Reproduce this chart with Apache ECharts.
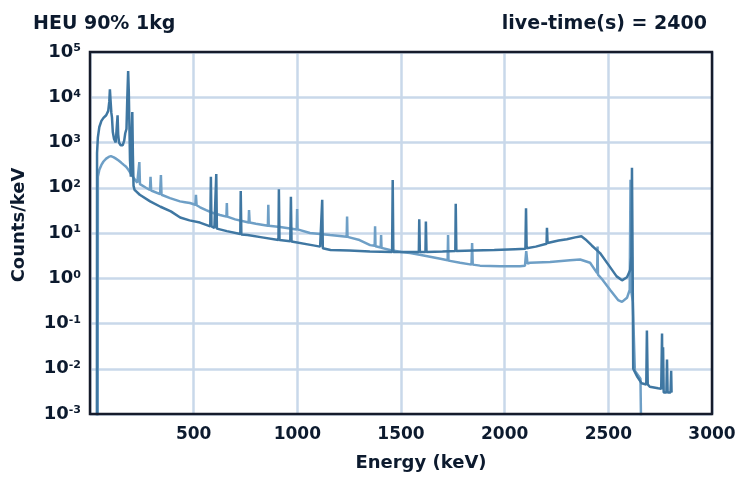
<!DOCTYPE html>
<html>
<head>
<meta charset="utf-8">
<script src="https://cdn.jsdelivr.net/npm/echarts@6/dist/echarts.min.js"></script>
<style>
  html, body { margin: 0; padding: 0; background: #fff; }
  #chart { width: 739px; height: 477px; }
</style>
</head>
<body>
<div id="chart"></div>
<script>
// spectrum 1 (dark): energies in keV and counts/keV
const darkEnergy = [33, 34, 38, 45, 55, 65, 78, 88, 93, 96, 99, 103, 106, 110, 116, 124, 128, 133, 136, 140, 148, 158, 165, 170, 176, 180, 184, 187, 190, 193, 197, 201, 204, 207, 210, 215, 240, 290, 340, 390, 435, 480, 530, 580, 583, 586, 600, 607, 609, 612, 660, 725, 727, 730, 760, 830, 909, 911, 914, 966, 969, 972, 1070, 1110, 1120, 1123, 1160, 1250, 1350, 1457, 1460, 1463, 1586, 1588, 1591, 1618, 1620, 1623, 1700, 1762, 1764, 1767, 1850, 1950, 2050, 2100, 2103, 2106, 2150, 2202, 2204, 2207, 2260, 2300, 2340, 2370, 2390, 2420, 2460, 2500, 2540, 2566, 2590, 2605, 2611, 2614, 2617, 2620, 2640, 2660, 2683, 2686, 2690, 2700, 2740, 2755, 2759, 2761, 2764, 2767, 2780, 2783, 2786, 2800, 2803, 2805];
const darkCounts = [0.00001, 590, 1300, 2200, 3000, 3500, 4000, 5000, 8000, 15000, 8700, 4500, 3600, 1700, 1200, 1000, 1100, 4000, 1500, 1000, 870, 870, 1100, 1600, 2000, 10000, 38000, 14000, 2500, 400, 175, 180, 4700, 500, 110, 90, 70, 50, 38, 30, 22, 19, 17, 14, 175, 14, 13, 13, 200, 12.5, 11, 9.5, 85, 9.3, 9, 8, 7, 93, 7, 6.6, 63, 6.5, 5.4, 5.0, 54, 4.6, 4.2, 4.1, 3.9, 3.8, 148, 3.8, 3.8, 20, 3.8, 3.8, 18, 3.8, 3.9, 4.0, 44, 4.0, 4.1, 4.2, 4.4, 4.5, 35, 4.6, 5.0, 5.8, 13, 6.0, 6.8, 7.3, 8.0, 8.5, 7.2, 5.3, 3.6, 2.0, 1.1, 0.9, 1.05, 1.5, 3, 275, 3, 0.01, 0.0066, 0.0048, 0.0045, 0.07, 0.0045, 0.004, 0.0037, 0.0036, 0.06, 0.0035, 0.03, 0.003, 0.003, 0.016, 0.003, 0.003, 0.009, 0.003];

// spectrum 2 (light)
const lightEnergy = [37, 38, 45, 55, 65, 78, 90, 101, 115, 125, 138, 150, 163, 174, 185, 193, 205, 217, 228, 235, 238, 241, 270, 289, 292, 295, 338, 342, 345, 386, 434, 458, 482, 508, 511, 514, 531, 560, 590, 627, 658, 660, 662, 700, 765, 767, 770, 800, 858, 860, 862, 917, 997, 999, 1001, 1061, 1158, 1238, 1240, 1242, 1300, 1351, 1373, 1375, 1377, 1402, 1404, 1406, 1447, 1500, 1544, 1590, 1640, 1690, 1725, 1727, 1729, 1785, 1840, 1843, 1846, 1881, 1978, 2074, 2098, 2104, 2110, 2122, 2219, 2315, 2364, 2412, 2446, 2448, 2450, 2470, 2509, 2547, 2566, 2590, 2603, 2607, 2610, 2618, 2628, 2655, 2662, 2663];
const lightCounts = [0.00001, 175, 250, 320, 380, 440, 480, 500, 470, 440, 400, 360, 320, 290, 250, 220, 180, 150, 130, 125, 370, 120, 100, 89, 175, 87, 72, 190, 70, 59, 50, 48, 46, 42, 70, 41, 37, 32, 28, 25, 23, 46, 23, 20, 17, 32, 17, 16, 14.5, 42, 14.5, 13.5, 12, 34, 12, 10, 9, 8.3, 23, 8.2, 7, 5.4, 5.2, 14, 5.1, 4.8, 9, 4.7, 4.2, 3.8, 3.6, 3.3, 3.0, 2.7, 2.5, 9, 2.45, 2.2, 2.0, 6, 2.0, 1.9, 1.85, 1.85, 1.9, 4.0, 2.1, 2.2, 2.3, 2.5, 2.6, 2.2, 1.3, 5, 1.2, 0.95, 0.55, 0.33, 0.3, 0.37, 0.55, 150, 0.55, 0.3, 0.009, 0.006, 0.006, 0.00001];

const xTicks = [500, 1000, 1500, 2000, 2500, 3000];

const textColor = "#0c1a2e";
const font = "DejaVu Sans";

const chart = echarts.init(document.getElementById("chart"));
chart.setOption({
  animation: false,
  backgroundColor: "#fff",
  title: [
    {
      text: "HEU 90% 1kg",
      left: 28,
      top: 10,
      textStyle: { fontFamily: font, fontSize: 19, fontWeight: "bold", color: textColor },
    },
    {
      text: "live-time(s) = 2400",
      right: 27,
      top: 10,
      textStyle: { fontFamily: font, fontSize: 19, fontWeight: "bold", color: textColor },
    },
  ],
  grid: { left: 90, right: 27, top: 52, bottom: 63 },
  xAxis: {
    type: "value",
    min: 0,
    max: 3000,
    interval: 500,
    name: "Energy (keV)",
    nameLocation: "middle",
    nameGap: 40,
    nameTextStyle: { fontFamily: font, fontSize: 18, fontWeight: "bold", color: textColor, padding: [0, 0, 0, 40] },
    axisLine: { show: false },
    axisTick: { show: false },
    axisLabel: {
      margin: 12,
      fontFamily: font,
      fontSize: 17,
      fontWeight: "bold",
      color: textColor,
      formatter: (v) => (xTicks.includes(v) ? String(v) : ""),
    },
    splitLine: { lineStyle: { color: "#c9d8ea", width: 2.5 } },
  },
  yAxis: {
    type: "log",
    logBase: 10,
    min: 0.001,
    max: 100000,
    splitNumber: 8,
    name: "Counts/keV",
    nameLocation: "middle",
    nameGap: 62,
    nameTextStyle: { fontFamily: font, fontSize: 18, fontWeight: "bold", color: textColor, padding: [0, 0, 0, 16] },
    axisLine: { show: false },
    axisTick: { show: false },
    axisLabel: {
      margin: 9,
      color: textColor,
      formatter: (v) => "{b|10}{e|" + Math.round(Math.log10(v)) + "}",
      rich: {
        b: { fontFamily: font, fontSize: 18, fontWeight: "bold", color: textColor },
        e: { fontFamily: font, fontSize: 11, fontWeight: "bold", color: textColor, verticalAlign: "top" },
      },
    },
    splitLine: { lineStyle: { color: "#c9d8ea", width: 2.5 } },
  },
  graphic: [
    {
      type: "rect",
      z: 100,
      silent: true,
      shape: { x: 90, y: 52, width: 622, height: 362 },
      style: { fill: "none", stroke: "#151b2b", lineWidth: 2.5 },
    },
  ],
  series: [
    {
      name: "light",
      type: "line",
      showSymbol: false,
      clip: true,
      data: lightEnergy.map((e, i) => [e, lightCounts[i]]),
      lineStyle: { color: "#6e9fc6", width: 2.5 },
    },
    {
      name: "dark",
      type: "line",
      showSymbol: false,
      clip: true,
      data: darkEnergy.map((e, i) => [e, darkCounts[i]]),
      lineStyle: { color: "#3f77a2", width: 2.5 },
    },
  ],
});
</script>
</body>
</html>
